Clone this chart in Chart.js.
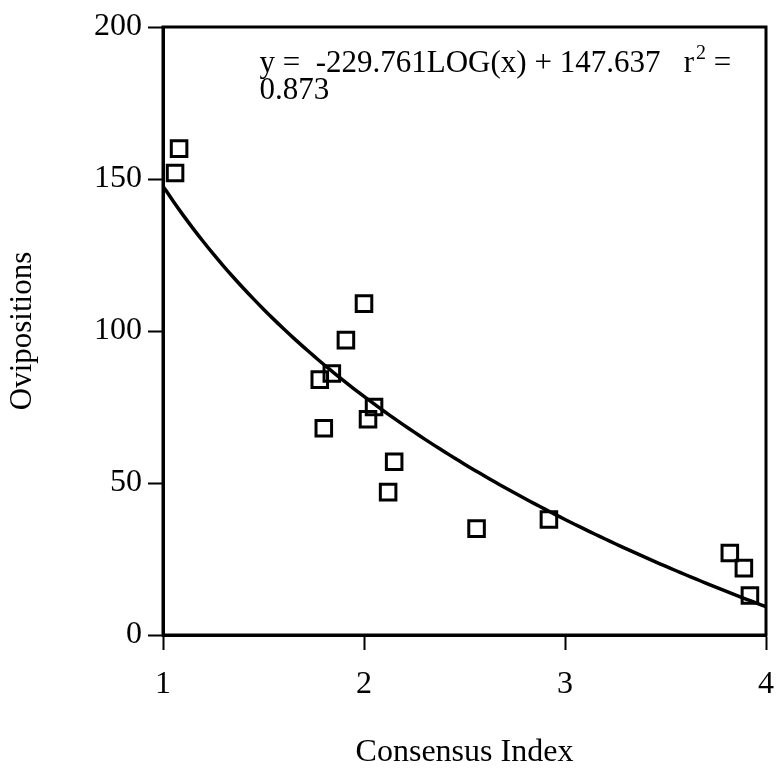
<!DOCTYPE html>
<html>
<head>
<meta charset="utf-8">
<script src="https://cdn.jsdelivr.net/npm/chart.js@4.4.1/dist/chart.umd.min.js"></script>
<style>
  html, body { margin: 0; padding: 0; background: #fff; }
  #wrap { width: 780px; height: 775px; }
</style>
</head>
<body>
<div id="wrap"><canvas id="ovipChart"></canvas></div>
<script>
// Consensus index vs. number of ovipositions
const consensusIndex = [1.06, 1.08, 1.78, 1.84, 1.91, 2.00, 1.80, 2.05, 2.02, 2.15, 2.12, 2.56, 2.92, 3.82, 3.89, 3.92];
const ovipositions   = [152, 160, 84, 86, 97, 109, 68, 75, 71, 57, 47, 35, 38, 27, 22, 13];

// Fitted curve: y = -229.761 LOG(x) + 147.637
const fitSlope = -229.761;
const fitIntercept = 147.637;
const fitR2 = 0.873;

const xTicks = [1, 2, 3, 4];
const yTicks = [0, 50, 100, 150, 200];

const points = consensusIndex.map((x, i) => ({ x: x, y: ovipositions[i] }));

const fitLine = [];
for (let x = 1; x <= 4.0001; x += 0.05) {
    fitLine.push({ x: x, y: fitSlope * Math.log10(x) + fitIntercept });
}

const serif = "'Liberation Serif', 'Times New Roman', serif";

// frame around the plot plus the equation text
const framePlugin = {
    id: 'frame',
    afterDatasetsDraw(chart) {
        const { ctx, chartArea: a, scales } = chart;
        ctx.save();
        ctx.strokeStyle = '#000';
        ctx.lineWidth = 3;
        ctx.strokeRect(a.left, a.top, a.right - a.left, a.bottom - a.top);

        ctx.fillStyle = '#000';
        ctx.font = '31px ' + serif;
        ctx.textBaseline = 'middle';
        ctx.textAlign = 'left';
        const tx = scales.x.getPixelForValue(1.48);
        const line1 = 'y =  ' + fitSlope.toFixed(3) + 'LOG(x) + ' + fitIntercept.toFixed(3) + '   r';
        const y1 = scales.y.getPixelForValue(188);
        ctx.fillText(line1, tx, y1);
        let w = ctx.measureText(line1).width;
        ctx.font = '20px ' + serif;
        ctx.fillText('2', tx + w + 2, y1 - 10);
        w += ctx.measureText('2').width + 2;
        ctx.font = '31px ' + serif;
        ctx.fillText(' =', tx + w, y1);
        ctx.fillText(fitR2.toFixed(3), tx, scales.y.getPixelForValue(179));
        ctx.restore();
    }
};

const ctx = document.getElementById('ovipChart').getContext('2d');

const myChart = new Chart(ctx, {
    type: 'scatter',
    data: {
        datasets: [
            {
                label: 'Ovipositions',
                data: points,
                pointStyle: 'rect',
                pointRadius: 11,
                pointBorderWidth: 3,
                pointBorderColor: '#000',
                pointBackgroundColor: 'rgba(0,0,0,0)',
                showLine: false
            },
            {
                label: 'Fit',
                data: fitLine,
                showLine: true,
                borderColor: '#000',
                borderWidth: 3.5,
                pointRadius: 0,
                tension: 0.3
            }
        ]
    },
    plugins: [framePlugin],
    options: {
        responsive: true,
        maintainAspectRatio: false,
        animation: false,
        layout: {
            padding: { top: 27, right: 10, left: 0, bottom: 0 }
        },
        plugins: {
            legend: { display: false },
            tooltip: { enabled: false }
        },
        scales: {
            x: {
                type: 'linear',
                min: 1,
                max: 4,
                afterBuildTicks(scale) {
                    scale.ticks = xTicks.map(v => ({ value: v }));
                },
                afterFit(scale) {
                    scale.height = 140;
                    scale.paddingLeft = 0;
                    scale.paddingRight = 0;
                },
                grid: {
                    display: true,
                    drawOnChartArea: false,
                    drawTicks: true,
                    tickLength: 15,
                    tickWidth: 2,
                    color: '#000'
                },
                border: { display: true, color: '#000', width: 3 },
                ticks: {
                    color: '#000',
                    padding: 15,
                    maxRotation: 0,
                    font: { family: serif, size: 32 }
                },
                title: {
                    display: true,
                    text: 'Consensus Index',
                    color: '#000',
                    padding: { bottom: 3 },
                    font: { family: serif, size: 32 }
                }
            },
            y: {
                type: 'linear',
                min: 0,
                max: 200,
                afterBuildTicks(scale) {
                    scale.ticks = yTicks.map(v => ({ value: v }));
                },
                afterFit(scale) {
                    scale.width = 163;
                    scale.paddingTop = 0;
                    scale.paddingBottom = 0;
                },
                grid: {
                    display: true,
                    drawOnChartArea: false,
                    drawTicks: true,
                    tickLength: 15,
                    tickWidth: 2,
                    color: '#000'
                },
                border: { display: true, color: '#000', width: 3 },
                ticks: {
                    color: '#000',
                    padding: 6,
                    font: { family: serif, size: 32 }
                },
                title: {
                    display: true,
                    text: 'Ovipositions',
                    color: '#000',
                    padding: { top: 4 },
                    font: { family: serif, size: 31 }
                }
            }
        }
    }
});
</script>
</body>
</html>
